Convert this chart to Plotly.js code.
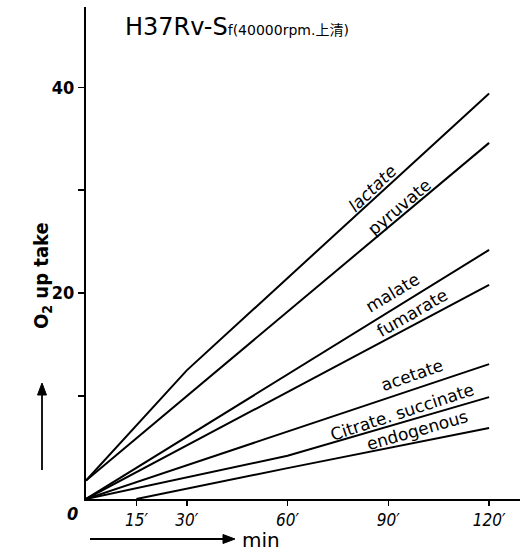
<!DOCTYPE html>
<html>
<head>
<meta charset="utf-8">
<script src="https://cdn.plot.ly/plotly-3.0.1.min.js"></script>
<style>html,body{margin:0;padding:0;background:#fff}#chart{width:526px;height:553px}</style>
</head>
<body>
<div id="chart"></div>
<script>
// ---- data ----
const lactateT = [0, 30, 120];
const lactateV = [1.8, 12.5, 39.4];
const pyruvateT = [0, 120];
const pyruvateV = [1.8, 34.6];
const malateT = [0, 120];
const malateV = [0, 24.2];
const fumarateT = [0, 120];
const fumarateV = [0, 20.8];
const acetateT = [0, 120];
const acetateV = [0, 13.1];
const citrateT = [0, 60, 120];
const citrateV = [0, 4.2, 9.9];
const endogenousT = [15, 60, 120];
const endogenousV = [0, 3.0, 6.9];

const xTickVals = [15, 30, 60, 90, 120];
const xTickText = ["15\u2032", "30\u2032", "60\u2032", "90\u2032", "120\u2032"];
const yTickVals = [20, 40];
const yTickText = ["20", "40"];
const yMinorTickVals = [10, 30];

const seriesNames = ["lactate", "pyruvate", "malate", "fumarate", "acetate", "Citrate. succinate", "endogenous"];
const seriesT = [lactateT, pyruvateT, malateT, fumarateT, acetateT, citrateT, endogenousT];
const seriesV = [lactateV, pyruvateV, malateV, fumarateV, acetateV, citrateV, endogenousV];

// label placement (data coords) and rotation
const labelX = [85.4, 93.2, 91.1, 97.0, 97.1, 94.1, 98.8];
const labelY = [30.2, 28.4, 20.0, 18.1, 12.0, 8.5, 6.7];
const labelAngle = [-44, -40, -31, -30, -19, -18, -16];

const FONT = "DejaVu Sans, sans-serif";
const CFONT = "DejaVu Sans Condensed, DejaVu Sans, sans-serif";

const traces = seriesNames.map((n, i) => ({
  x: seriesT[i], y: seriesV[i], type: 'scatter', mode: 'lines', name: n,
  line: {color: '#000', width: 2}, hoverinfo: 'skip'
}));

const annotations = seriesNames.map((n, i) => ({
  x: labelX[i], y: labelY[i], xref: 'x', yref: 'y', text: n, showarrow: false,
  textangle: labelAngle[i], xanchor: 'center', yanchor: 'middle',
  font: {family: FONT, size: 17, color: '#000', style: i === 0 ? 'italic' : 'normal'}
}));

const W = 434, H = 492, L = 86, B = 499;
function px(xp) { return (xp - L) / W; }
function py(yp) { return (B - yp) / H; }

annotations.push(
  {xref: 'paper', yref: 'paper', x: px(123), y: py(27), xanchor: 'left', yanchor: 'middle', showarrow: false,
   text: 'H37Rv-S<span style="font-size:14px">f(40000rpm.\u4e0a\u6e05)</span>',
   font: {family: FONT + ', Noto Sans CJK JP', size: 24, color: '#000'}},
  {xref: 'paper', yref: 'paper', x: px(42), y: py(276), xanchor: 'center', yanchor: 'middle', showarrow: false,
   textangle: -90, text: 'O<sub>2</sub> up take', font: {family: CFONT, size: 20, color: '#000', weight: 'bold'}},
  {xref: 'paper', yref: 'paper', x: px(240), y: py(540), xanchor: 'left', yanchor: 'middle', showarrow: false,
   text: 'min', font: {family: FONT, size: 20, color: '#000'}},
  {xref: 'paper', yref: 'paper', x: px(72), y: py(513), xanchor: 'center', yanchor: 'middle', showarrow: false,
   text: '0', font: {family: CFONT, size: 18, color: '#000', style: 'italic', weight: 'bold'}}
);

// arrows as shapes (paper coords)
const shapes = [
  {type: 'line', xref: 'paper', yref: 'paper', x0: px(42), x1: px(42), y0: py(470), y1: py(392),
   line: {color: '#000', width: 1.8}},
  {type: 'path', xref: 'paper', yref: 'paper',
   path: `M ${px(42)} ${py(383)} L ${px(37.5)} ${py(395)} L ${px(46.5)} ${py(395)} Z`,
   fillcolor: '#000', line: {color: '#000', width: 1}},
  {type: 'line', xref: 'paper', yref: 'paper', x0: px(90), x1: px(226), y0: py(539), y1: py(539),
   line: {color: '#000', width: 1.8}},
  {type: 'path', xref: 'paper', yref: 'paper',
   path: `M ${px(235)} ${py(539)} L ${px(223)} ${py(534.5)} L ${px(223)} ${py(543.5)} Z`,
   fillcolor: '#000', line: {color: '#000', width: 1}}
];

const layout = {
  width: 526, height: 553,
  margin: {l: L, r: 6, t: 7, b: 54, pad: 0},
  paper_bgcolor: '#fff', plot_bgcolor: '#fff',
  showlegend: false,
  xaxis: {range: [0, 129.2], showgrid: false, zeroline: false, showline: true, linecolor: '#000', linewidth: 2,
          ticks: 'outside', ticklen: 5, tickwidth: 1.5, tickcolor: '#000',
          tickmode: 'array', tickvals: xTickVals, ticktext: xTickText,
          tickfont: {family: CFONT, size: 17, color: '#000', style: 'italic'}},
  yaxis: {range: [0, 47.8], showgrid: false, zeroline: false, showline: true, linecolor: '#000', linewidth: 2,
          ticks: 'outside', ticklen: 6, tickwidth: 1.5, tickcolor: '#000',
          tickmode: 'array', tickvals: yTickVals, ticktext: yTickText,
          minor: {tickmode: 'array', tickvals: yMinorTickVals, ticks: 'outside', ticklen: 6, tickwidth: 1.5,
                  tickcolor: '#000', showgrid: false},
          tickfont: {family: CFONT, size: 18, color: '#000', weight: 'bold'}},
  annotations: annotations,
  shapes: shapes
};

Plotly.newPlot('chart', traces, layout, {staticPlot: true, displayModeBar: false});
</script>
</body>
</html>
